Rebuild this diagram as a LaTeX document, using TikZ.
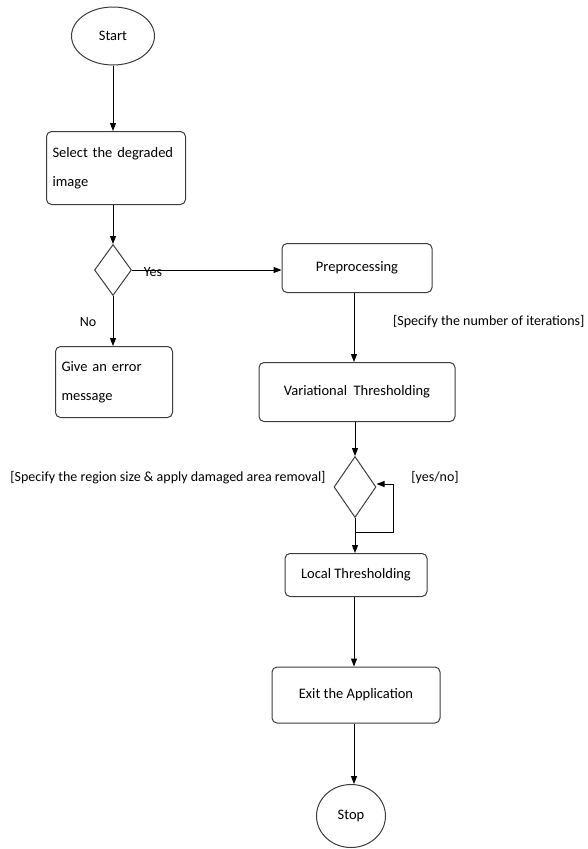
\documentclass[tikz,border=0pt]{standalone}
\usepackage{fontspec}
\setmainfont{Carlito}
\usetikzlibrary{arrows.meta, shapes.geometric}
\definecolor{cline}{HTML}{3C3C3C}
\tikzset{
  every picture/.style={line width=1pt},
  box/.style={draw=cline, rounded corners=5pt, align=center, inner sep=0pt, font=\fontsize{14.5}{17}\selectfont},
  lbox/.style={box, align=left, font=\fontsize{14.5}{29}\selectfont},
  term/.style={ellipse, draw=cline, inner sep=0pt, font=\fontsize{14.5}{17}\selectfont},
  decide/.style={diamond, draw=cline, inner sep=0pt},
  arrow/.style={-{Triangle[length=8pt, width=6pt]}, draw=black},
  note/.style={font=\fontsize{14}{17}\selectfont, inner sep=1pt},
}
\begin{document}
\begin{tikzpicture}[x=1pt, y=-1pt]
  \useasboundingbox (0,0) rectangle (587,849);
  % main column
  \node[term, minimum width=83, minimum height=58] (start) at (113,36) {Start};
  \node[lbox, minimum width=139, minimum height=73, text width=127] (select) at (116,168) {Select the degraded\\image};
  \node[decide, minimum width=37, minimum height=51] (d1) at (113,270) {};
  \node[lbox, minimum width=117, minimum height=71, text width=105] (error) at (114,382) {Give an error\\message};
  \node[box, minimum width=150, minimum height=49] (pre) at (357,268) {Preprocessing};
  \node[box, minimum width=196, minimum height=59] (var) at (357,392) {Variational\ \ Thresholding};
  \node[decide, minimum width=42, minimum height=61] (d2) at (355,487) {};
  \node[box, minimum width=142, minimum height=43] (local) at (356,575) {Local Thresholding};
  \node[box, minimum width=168, minimum height=56] (exit) at (356,695) {Exit the Application};
  \node[term, minimum width=69, minimum height=63] (stop) at (351,816) {Stop};
  % labels
  \node[note] (yes) at (153,272) {Yes};
  \node[note] (no) at (88,322) {No};
  \node[note, anchor=east] (iter) at (586,322) {[Specify the number of iterations]};
  \node[note, anchor=east] (region) at (327,478) {[Specify the region size \& apply damaged area removal]};
  \node[note] (yesno) at (435,478) {[yes/no]};
  \coordinate (loopa) at (355,532);
  \coordinate (loopb) at (393,532);
  \coordinate (loopc) at (393,484);
  % connectors
  \draw[arrow] (start) -- (start |- select.north);
  \draw[arrow] (select.south -| d1) -- (d1.north);
  \draw[arrow] (d1.east) -- (pre.west |- d1.east);
  \draw[arrow] (d1.south) -- (d1.south |- error.north);
  \draw[arrow] (pre.south -| 354,0) -- (var.north -| 354,0);
  \draw[arrow] (var.south -| d2) -- (d2.north);
  \draw[arrow] (d2.south) -- (d2.south |- local.north);
  \draw[arrow] (loopa) -- (loopb) -- (loopc) -- (d2.east |- loopc);
  \draw[arrow] (local.south -| 354,0) -- (exit.north -| 354,0);
  \draw[arrow] (exit.south -| 354,0) -- (stop.north -| 354,0);
\end{tikzpicture}
\end{document}
